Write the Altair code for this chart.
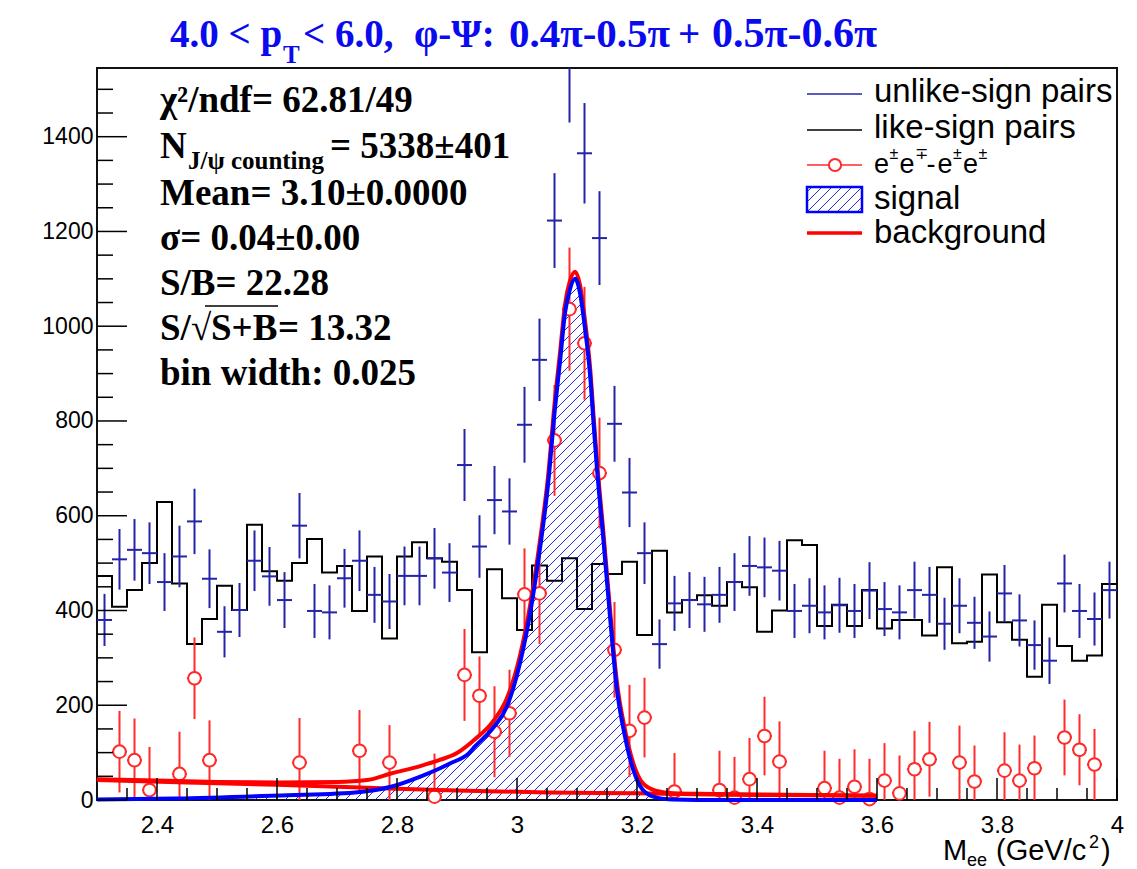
import numpy as np
import pandas as pd
import altair as alt

# ------------------------------------------------------------------ layout
X_MIN, X_MAX = 2.3, 4.0
Y_MAX = 1545.0
W, H = 1020, 732
PAD_L, PAD_T = 97, 68

SERIF = "Liberation Serif"
SANS = "Liberation Sans"
BLUE_PTS = "#2424a8"
BLUE = "#0000ff"
RED = "#ff0000"
RED_PTS = "#ff2a2a"
TITLE_BLUE = "#0a0aee"

# ------------------------------------------------------------------ data
bin_low = 2.3
bin_width = 0.025

unlike_counts = [380, 508, 528, 521, 460, 514, 588, 467, 355, 401,
                 505, 472, 422, 579, 399, 396, 468, 505, 433, 419,
                 473, 473, 510, 480, 707, 535, 633, 609, 792, 929,
                 1223, 1555, 1365, 1186, 794, 649, 521, 329, 415, 422,
                 413, 433, 460, 494, 491, 484, 399, 410, 396, 411,
                 399, 442, 403, 396, 443, 433, 372, 410, 374, 345,
                 436, 379, 327, 294, 457, 399, 382, 443]
unlike_errors = [55, 64, 65, 65, 61, 65, 69, 62, 54, 57,
                 64, 62, 59, 69, 57, 57, 62, 64, 59, 58,
                 62, 62, 64, 62, 76, 66, 72, 70, 80, 87,
                 100, 125, 106, 99, 80, 73, 65, 52, 58, 59,
                 58, 59, 61, 63, 63, 63, 57, 58, 57, 58,
                 57, 60, 57, 57, 60, 59, 55, 58, 55, 53,
                 60, 55, 52, 49, 61, 57, 56, 60]
like_counts = [473, 408, 443, 500, 629, 457, 329, 382, 452, 401,
               581, 483, 463, 500, 551, 480, 494, 399, 514, 341,
               514, 544, 510, 503, 443, 312, 487, 426, 359, 495,
               463, 510, 403, 498, 477, 503, 348, 526, 396, 422,
               432, 410, 460, 449, 355, 400, 548, 538, 367, 412,
               367, 443, 362, 380, 380, 347, 491, 331, 334, 476,
               375, 338, 260, 412, 325, 294, 305, 456]

diff_bins = [1, 2, 3, 5, 6, 7, 13, 17, 19, 22,
             24, 25, 26, 27, 28, 29, 30, 31, 32, 33, 34, 35, 36,
             38, 41, 42, 43, 44, 45,
             48, 49, 50, 51, 52, 53, 54, 55,
             57, 58, 60, 61, 62, 64, 65, 66]
diff_vals = [102, 84, 21, 55, 257, 84, 79, 104, 79, 7,
             264, 220, 144, 183, 434, 436, 759, 1036, 964, 690, 317, 146, 174,
             18, 21, 5, 44, 135, 81,
             25, 5, 28, 2, 41, 14, 65, 86,
             79, 39, 62, 41, 67, 132, 106, 75]
diff_errs = [86, 88, 91, 89, 86, 84, 94, 86, 79, 91,
             97, 83, 96, 92, 97, 107, 117, 130, 119, 117, 101, 97, 84,
             81, 83, 86, 87, 83, 85,
             79, 82, 79, 85, 79, 80, 81, 79,
             78, 76, 81, 76, 69, 80, 75, 75]

# fitted signal (Crystal-Ball-like) curve
signal_x = [2.30, 2.43, 2.59, 2.73, 2.79, 2.84, 2.87, 2.89, 2.92, 2.93,
            2.96, 2.983, 3.005, 3.022, 3.038, 3.052, 3.063, 3.072, 3.080,
            3.088, 3.097, 3.105, 3.113, 3.122, 3.128, 3.133, 3.144, 3.155,
            3.166, 3.180, 3.194, 3.210, 3.233, 3.26, 3.30, 3.60]
signal_y = [1, 3, 9, 16, 28, 50, 66, 78, 99, 113,
            152, 197, 289, 395, 528, 669, 823, 929, 1028,
            1077, 1100, 1070, 999, 894, 788, 704, 549, 387,
            239, 134, 63, 21, 5, 1, 0, 0]
# total fit (signal + background)
total_x = [2.30, 2.40, 2.50, 2.60, 2.70, 2.75, 2.79, 2.84, 2.87, 2.90,
           2.93, 2.96, 2.983, 3.005, 3.022, 3.038, 3.052, 3.063, 3.072,
           3.080, 3.088, 3.097, 3.105, 3.113, 3.122, 3.128, 3.133, 3.144,
           3.155, 3.166, 3.180, 3.194, 3.210, 3.233, 3.26, 3.30, 3.45, 3.60]
total_y = [44, 41, 38, 37, 38, 42, 56, 72, 84, 99,
           128, 166, 214, 305, 412, 545, 686, 842, 948,
           1046, 1095, 1115, 1087, 1015, 910, 804, 720, 565,
           402, 254, 148, 77, 35, 19, 14, 13, 11, 9]
# residual background
bkg_x = [2.30, 2.45, 2.60, 2.75, 2.90, 3.05, 3.20, 3.35, 3.50, 3.60]
bkg_y = [42, 37, 32, 26, 20, 16, 14, 11, 10, 9]

x_major_ticks = [2.4, 2.6, 2.8, 3.0, 3.2, 3.4, 3.6, 3.8, 4.0]
x_minor_ticks = [2.35, 2.45, 2.5, 2.55, 2.65, 2.7, 2.75, 2.85, 2.9, 2.95,
                 3.05, 3.1, 3.15, 3.25, 3.3, 3.35, 3.45, 3.5, 3.55,
                 3.65, 3.7, 3.75, 3.85, 3.9, 3.95]
y_major_ticks = [0, 200, 400, 600, 800, 1000, 1200, 1400]
y_minor_ticks = [50, 100, 150, 250, 300, 350, 450, 500, 550, 650, 700, 750,
                 850, 900, 950, 1050, 1100, 1150, 1250, 1300, 1350, 1450, 1500]

# ------------------------------------------------------------------ helpers
xscale = alt.Scale(domain=[X_MIN, X_MAX], nice=False, zero=False)
yscale = alt.Scale(domain=[0, Y_MAX], nice=False, zero=False)

xaxis = alt.Axis(values=x_major_ticks, format="~g", ticks=False, domain=False,
                 grid=False, labelFont=SANS, labelFontSize=24, labelColor="black",
                 labelPadding=13, labelFlush=False, labelOverlap=False, title=None)
yaxis = alt.Axis(values=y_major_ticks, format="d", ticks=False, domain=False, grid=False,
                 labelFont=SANS, labelFontSize=23, labelColor="black",
                 labelPadding=4, labelOverlap=False, title=None)


def XQ(f):
    return alt.X(f"{f}:Q", scale=xscale, axis=xaxis)


def YQ(f):
    return alt.Y(f"{f}:Q", scale=yscale, axis=yaxis)


def px2x(px):  # absolute pixel -> data x
    return X_MIN + (px - PAD_L) / W * (X_MAX - X_MIN)


def py2y(py):  # absolute pixel -> data y
    return (PAD_T + H - py) / H * Y_MAX


def txt(s, x, y, size, font=SERIF, weight="bold", color="black",
        align="left", baseline="alphabetic"):
    return alt.Chart(pd.DataFrame({"t": [s]})).mark_text(
        align=align, baseline=baseline, font=font, fontSize=size,
        fontWeight=weight, color=color
    ).encode(text="t:N", x=alt.value(x - PAD_L), y=alt.value(y - PAD_T))


def hrule(x1, x2, y, color, width):
    return alt.Chart(pd.DataFrame({"a": [0]})).mark_rule(
        color=color, strokeWidth=width
    ).encode(x=alt.value(x1 - PAD_L), x2=alt.value(x2 - PAD_L), y=alt.value(y - PAD_T))


# ------------------------------------------------------------------ frames
centers = [bin_low + bin_width * (i + 0.5) for i in range(len(unlike_counts))]
edges = [bin_low + bin_width * i for i in range(len(like_counts) + 1)]

df_like = pd.DataFrame({"x": edges, "y": like_counts + [like_counts[-1]]})
df_unlike = pd.DataFrame({
    "x": centers,
    "lo": [c - bin_width / 2 for c in centers],
    "hi": [c + bin_width / 2 for c in centers],
    "y": unlike_counts,
    "ylo": [v - e for v, e in zip(unlike_counts, unlike_errors)],
    "yhi": [v + e for v, e in zip(unlike_counts, unlike_errors)],
})
dcent = [centers[i] for i in diff_bins]
df_diff = pd.DataFrame({
    "x": dcent,
    "lo": [c - bin_width / 2 for c in dcent],
    "hi": [c + bin_width / 2 for c in dcent],
    "y": diff_vals,
    "ylo": [v - e for v, e in zip(diff_vals, diff_errs)],
    "yhi": [v + e for v, e in zip(diff_vals, diff_errs)],
})
df_sig = pd.DataFrame({"x": signal_x, "y": signal_y})
df_tot = pd.DataFrame({"x": total_x, "y": total_y})
df_bkg = pd.DataFrame({"x": bkg_x, "y": bkg_y})

# hatch pattern of the signal area (45 degree lines clipped to the area)
spacing = 10.0
pxs = np.arange(0, W, 0.5)
xdat = X_MIN + pxs / W * (X_MAX - X_MIN)
sig_up = np.interp(xdat, signal_x, signal_y, right=0.0) * H / Y_MAX
sig_up[xdat > max(signal_x)] = 0.0
hx, hy, hx2, hy2 = [], [], [], []
for c in np.arange(-H, W, spacing):
    yup = pxs - c
    inside = (yup >= 0) & (yup <= sig_up)
    d = np.diff(np.concatenate([[0], inside.astype(int), [0]]))
    starts = np.where(d == 1)[0]
    ends = np.where(d == -1)[0] - 1
    for s, e in zip(starts, ends):
        if pxs[e] - pxs[s] < 1.5:
            continue
        hx.append(X_MIN + pxs[s] / W * (X_MAX - X_MIN))
        hy.append((pxs[s] - c) / H * Y_MAX)
        hx2.append(X_MIN + pxs[e] / W * (X_MAX - X_MIN))
        hy2.append((pxs[e] - c) / H * Y_MAX)

# legend box hatch (pixel box 807..862 x 187..212)
bx0, bx1, by0, by1 = 807, 862, 187, 212
for k in range(-20, 55, 10):
    t0 = max(0, -k)
    t1 = min(by1 - by0, (bx1 - bx0) - k)
    if t1 > t0:
        hx.append(px2x(bx0 + k + t0)); hy.append(py2y(by1 - t0))
        hx2.append(px2x(bx0 + k + t1)); hy2.append(py2y(by1 - t1))
df_hatch = pd.DataFrame({"x": hx, "y": hy, "x2": hx2, "y2": hy2})

# ------------------------------------------------------------------ layers
layers = []

layers.append(alt.Chart(df_like).mark_line(interpolate="step-after", color="#000000",
                                           strokeWidth=2).encode(
    x=XQ("x"), y=YQ("y")))

layers.append(alt.Chart(df_hatch).mark_rule(color=BLUE, strokeWidth=1, opacity=0.85).encode(
    x=XQ("x"), y=YQ("y"), x2=alt.X2("x2"), y2=alt.Y2("y2")))

layers.append(alt.Chart(df_unlike).mark_rule(color=BLUE_PTS, strokeWidth=2, clip=True).encode(
    x=XQ("x"), y=YQ("ylo"), y2=alt.Y2("yhi")))
layers.append(alt.Chart(df_unlike).mark_rule(color=BLUE_PTS, strokeWidth=2, clip=True).encode(
    x=XQ("lo"), x2=alt.X2("hi"), y=YQ("y")))

layers.append(alt.Chart(df_diff).mark_rule(color=RED_PTS, strokeWidth=2, clip=True).encode(
    x=XQ("x"), y=YQ("ylo"), y2=alt.Y2("yhi")))
layers.append(alt.Chart(df_diff).mark_rule(color=RED_PTS, strokeWidth=2, clip=True).encode(
    x=XQ("lo"), x2=alt.X2("hi"), y=YQ("y")))
layers.append(alt.Chart(df_diff).mark_point(shape="circle", fill="white", fillOpacity=1,
                                            stroke=RED_PTS, strokeWidth=2, size=160,
                                            opacity=1).encode(x=XQ("x"), y=YQ("y")))

layers.append(alt.Chart(df_tot).mark_line(color=RED, strokeWidth=4, interpolate="monotone").encode(
    x=XQ("x"), y=YQ("y")))
layers.append(alt.Chart(df_bkg).mark_line(color=RED, strokeWidth=4, interpolate="monotone").encode(
    x=XQ("x"), y=YQ("y")))
layers.append(alt.Chart(df_sig).mark_line(color=BLUE, strokeWidth=4, interpolate="monotone").encode(
    x=XQ("x"), y=YQ("y")))

# inside ticks
layers.append(alt.Chart(pd.DataFrame({"x": x_major_ticks})).mark_rule(color="black", strokeWidth=1.5).encode(
    x=XQ("x"), y=alt.value(H), y2=alt.value(H - 22)))
layers.append(alt.Chart(pd.DataFrame({"x": x_minor_ticks})).mark_rule(color="black", strokeWidth=1.5).encode(
    x=XQ("x"), y=alt.value(H), y2=alt.value(H - 12)))
layers.append(alt.Chart(pd.DataFrame({"y": y_major_ticks})).mark_rule(color="black", strokeWidth=1.5).encode(
    y=YQ("y"), x=alt.value(0), x2=alt.value(30)))
layers.append(alt.Chart(pd.DataFrame({"y": y_minor_ticks})).mark_rule(color="black", strokeWidth=1.5).encode(
    y=YQ("y"), x=alt.value(0), x2=alt.value(16)))

# title
TS = 39
layers += [
    txt("4.0 < p", 170, 47, TS, color=TITLE_BLUE),
    txt("T", 283, 63, 25, color=TITLE_BLUE),
    txt("< 6.0,", 303, 47, TS, color=TITLE_BLUE),
    txt("\u03c6-\u03a8:", 414, 47, TS, color=TITLE_BLUE),
    txt("0.4\u03c0-0.5\u03c0", 509, 47, 41, color=TITLE_BLUE),
    txt("+", 678, 47, TS, color=TITLE_BLUE),
    txt("0.5\u03c0-0.6\u03c0", 712, 47, 42, color=TITLE_BLUE),
]

# statistics box
S = 37
layers += [
    txt("\u03c7\u00b2/ndf= 62.81/49", 160, 112, S),
    txt("N", 160, 158, S),
    txt("J/\u03c8 counting", 188, 169, 25),
    txt("=  5338\u00b1401", 330, 158, S),
    txt("Mean= 3.10\u00b10.0000", 160, 205, S),
    txt("\u03c3= 0.04\u00b10.00", 160, 250, S),
    txt("S/B= 22.28", 160, 295, S),
    txt("S/", 160, 340, S),
    txt("\u221a", 191, 340, S, weight="normal"),
    txt("S+B", 211, 340, S),
    txt("= 13.32", 278, 340, S),
    hrule(205, 278, 306, "black", 1.5),
    txt("bin width: 0.025", 160, 385, S),
]

# legend
LS = 33
ES = 27
SS = 16
GS = "normal"
layers += [
    hrule(807, 862, 94, BLUE_PTS, 1.5),
    txt("unlike-sign pairs", 874, 102, LS, font=SANS, weight=GS),
    hrule(807, 862, 130, "black", 1.5),
    txt("like-sign pairs", 874, 138, LS, font=SANS, weight=GS),
    hrule(807, 862, 165, RED_PTS, 1.5),
    alt.Chart(pd.DataFrame({"a": [0]})).mark_point(
        shape="circle", fill="white", fillOpacity=1, stroke=RED_PTS, strokeWidth=2,
        size=150, opacity=1).encode(x=alt.value(835 - PAD_L), y=alt.value(165 - PAD_T)),
    txt("e", 874, 173, ES, font=SANS, weight=GS),
    txt("\u00b1", 889.5, 159, SS, font=SANS, weight=GS),
    txt("e", 899.5, 173, ES, font=SANS, weight=GS),
    txt("\u2213", 915, 159, SS, font=SANS, weight=GS),
    txt("-", 926.5, 173, ES, font=SANS, weight=GS),
    txt("e", 937.5, 173, ES, font=SANS, weight=GS),
    txt("\u00b1", 953, 159, SS, font=SANS, weight=GS),
    txt("e", 963, 173, ES, font=SANS, weight=GS),
    txt("\u00b1", 978.5, 159, SS, font=SANS, weight=GS),
    alt.Chart(pd.DataFrame({"a": [0]})).mark_rect(
        fill="white", fillOpacity=0, stroke=BLUE, strokeWidth=2.5).encode(
        x=alt.value(bx0 - PAD_L), x2=alt.value(bx1 - PAD_L),
        y=alt.value(by0 - PAD_T), y2=alt.value(by1 - PAD_T)),
    txt("signal", 874, 209, LS, font=SANS, weight=GS),
    hrule(807, 862, 233, RED, 3.5),
    txt("background", 874, 243, LS, font=SANS, weight=GS),
]

# x-axis title
AS = 29
layers += [
    txt("M", 943, 860, AS, font=SANS, weight=GS),
    txt("ee", 967, 866, 18, font=SANS, weight=GS),
    txt("(GeV/c", 996, 860, AS, font=SANS, weight=GS),
    txt("2", 1089, 848, 18, font=SANS, weight=GS),
    txt(")", 1101, 860, AS, font=SANS, weight=GS),
]

chart = alt.layer(*layers).properties(
    width=W, height=H,
    padding={"left": PAD_L, "top": PAD_T, "right": 1137 - PAD_L - W, "bottom": 869 - PAD_T - H},
    autosize=alt.AutoSizeParams(type="none"),
    background="white",
).configure_view(stroke="#111111", strokeWidth=2)

chart.save("out.html", embed_options={"renderer": "svg", "actions": False})
